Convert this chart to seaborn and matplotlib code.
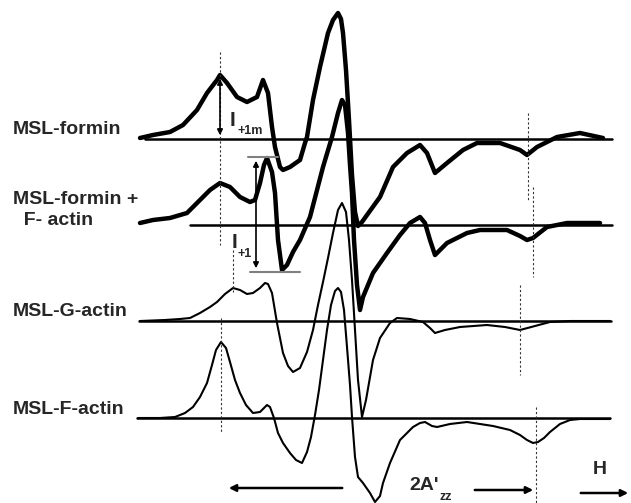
import matplotlib
matplotlib.use("Agg")
import matplotlib.pyplot as plt
import seaborn as sns

# EPR spectra, field position (x) and signal relative to each baseline
formin_field = [140, 153, 170, 183, 197, 207, 217, 220, 227, 237, 247, 257, 263, 268, 272, 275,
                280, 283, 290, 300, 305, 307, 313, 320, 328, 333, 338, 341, 343, 346, 349, 352, 355,
                358, 362, 367, 380, 393, 407, 420, 427, 435, 447, 463, 477, 500, 520, 527, 537,
                557, 580, 603]
formin_signal = [1, 4, 7, 14, 29, 46, 59, 64, 56, 42, 37, 42, 59, 46, 12, -8,
                 -28, -31, -28, -21, -4, 2, 39, 72, 106, 119, 126, 120, 106, 69, 19, -36, -73,
                 -87, -83, -76, -58, -28, -14, -6, -14, -34, -24, -11, -4, -4, -11, -16, -8,
                 2, 6, 1]

formin_factin_field = [140, 153, 170, 187, 200, 210, 220, 230, 240, 250, 255, 260, 264, 267, 272,
                       275, 278, 282, 287, 293, 300, 310, 323, 332, 338, 342, 345, 348, 350, 352,
                       354, 357, 360, 363, 373, 387, 400, 410, 420, 425, 430, 435, 440, 447, 467,
                       480, 507, 520, 527, 533, 547, 567, 600]
formin_factin_signal = [2, 5, 7, 12, 25, 35, 42, 38, 28, 23, 25, 42, 60, 67, 53,
                        32, -15, -45, -40, -27, -15, 8, 58, 88, 112, 125, 120, 92, 60, 32,
                        -15, -60, -85, -72, -48, -28, -10, 2, 8, 2, -15, -30, -25, -18, -8,
                        -5, -5, -11, -15, -13, -2, 2, 2]

gactin_field = [140, 165, 180, 190, 200, 210, 217, 225, 233, 240, 247, 253, 260, 265, 268, 272,
                277, 283, 288, 293, 300, 307, 313, 318, 323, 328, 333, 338, 342, 346, 349, 352,
                355, 358, 362, 366, 373, 380, 390, 397, 410, 423, 430, 435, 445, 460, 487, 505,
                520, 535, 550, 570, 610]
gactin_signal = [0, 1, 2, 3, 8, 14, 19, 27, 33, 31, 27, 28, 33, 38, 37, 28,
                 -2, -32, -45, -51, -47, -31, -9, 16, 39, 63, 88, 111, 118, 109, 81, 41,
                 -9, -59, -96, -79, -39, -17, -2, 3, 2, -1, -7, -12, -9, -6, -4, -6,
                 -9, -5, -1, 0, 0]

factin_field = [138, 160, 175, 185, 193, 200, 207, 212, 216, 221, 226, 230, 235, 240, 246, 253,
                260, 267, 270, 274, 278, 283, 290, 296, 302, 307, 311, 315, 319, 323, 327, 331,
                335, 338, 341, 344, 347, 350, 352, 355, 358, 363, 370, 375, 380, 383, 390, 400,
                413, 420, 425, 432, 437, 450, 467, 493, 510, 520, 527, 533, 538, 544, 550, 560,
                570, 580, 610]
factin_signal = [0, 0, 1, 5, 11, 21, 35, 53, 68, 76, 70, 56, 38, 25, 13, 5,
                 6, 13, 11, 0, -15, -25, -35, -42, -45, -34, -19, 3, 28, 58, 88, 113,
                 127, 130, 126, 108, 71, 33, 1, -39, -59, -65, -75, -84, -78, -65, -45, -22,
                 -9, -5, -4, -8, -9, -6, -4, -8, -12, -17, -22, -25, -24, -20, -14, -6,
                 -2, -1, -1]

labels = ["MSL-formin", "MSL-formin +\n  F- actin", "MSL-G-actin", "MSL-F-actin"]

sns.set_style("white")
plt.rcParams['font.family'] = ['Liberation Sans', 'DejaVu Sans']

fig = plt.figure(figsize=(6.31, 5.03), dpi=100)
ax = fig.add_axes([0, 0, 1, 1])
ax.set_xlim(0, 631)
ax.set_ylim(503, 0)
ax.axis('off')

spectra = [
    (formin_field, formin_signal, 139, 145, 612, 3.2),
    (formin_factin_field, formin_factin_signal, 225, 190, 612, 3.2),
    (gactin_field, gactin_signal, 321, 139, 611, 1.5),
    (factin_field, factin_signal, 418, 137, 610, 1.5),
]
label_pos = [(13, 130), (13, 210), (13, 312), (13, 410)]

for (fx, sig, base, x0, x1, lw), lab, (tx, ty) in zip(spectra, labels, label_pos):
    ax.plot([x0, x1], [base, base], color='black', lw=1.8)
    sns.lineplot(x=fx, y=[base - s for s in sig], ax=ax, color='black', linewidth=lw,
                 sort=False, estimator=None, solid_joinstyle='round', solid_capstyle='round')
    ax.text(tx, ty, lab, fontsize=14, fontweight='bold', va='center', ha='left',
            linespacing=1.35)

# dotted guide lines
dot = dict(color='#333333', lw=0.8, ls=(0, (2, 2)))
ax.plot([220, 220], [52, 245], **dot)
ax.plot([233, 233], [250, 292], **dot)
ax.plot([221, 221], [318, 433], **dot)
ax.plot([528, 528], [113, 200], **dot)
ax.plot([533, 533], [187, 277], **dot)
ax.plot([520, 520], [285, 375], **dot)
ax.plot([536, 536], [407, 503], **dot)

# intensity markers
ax.annotate('', xy=(220, 76), xytext=(220, 138),
            arrowprops=dict(arrowstyle='<|-|>', color='black', lw=1.2, mutation_scale=8))
ax.text(230, 120, 'I', fontsize=15, fontweight='bold', va='center')
ax.text(237, 131, '+1m', fontsize=9, fontweight='bold', va='center')

ax.plot([248, 278], [157, 157], color='gray', lw=1.5)
ax.plot([250, 300], [272, 272], color='gray', lw=1.5)
ax.annotate('', xy=(256, 158), xytext=(256, 271),
            arrowprops=dict(arrowstyle='<|-|>', color='black', lw=1.2, mutation_scale=8))
ax.text(232, 243, 'I', fontsize=15, fontweight='bold', va='center')
ax.text(237, 254, '+1', fontsize=9, fontweight='bold', va='center')

# 2A'zz span and field direction
ax.annotate('', xy=(226, 488), xytext=(345, 488),
            arrowprops=dict(arrowstyle='-|>', color='black', lw=1.8, mutation_scale=10))
ax.annotate('', xy=(536, 490), xytext=(472, 490),
            arrowprops=dict(arrowstyle='-|>', color='black', lw=1.8, mutation_scale=10))
ax.text(409, 485, "2A'", fontsize=14, fontweight='bold', va='center')
ax.text(439, 497, 'zz', fontsize=9, fontweight='bold', va='center')
ax.text(593, 470, 'H', fontsize=14, fontweight='bold', va='center')
ax.annotate('', xy=(631, 493), xytext=(578, 493),
            arrowprops=dict(arrowstyle='-|>', color='black', lw=1.8, mutation_scale=10))

fig.savefig('out.png', dpi=100)
plt.close(fig)
